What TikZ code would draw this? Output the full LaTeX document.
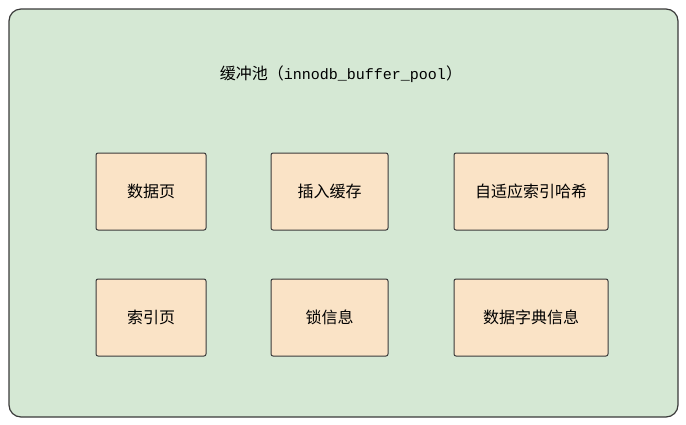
\documentclass[tikz,border=0pt]{standalone}
\usepackage{fontspec}
\newfontfamily\cjk{Noto Sans CJK SC}
\newfontfamily\latinmono{Liberation Mono}
\usepackage{tikz}
\definecolor{poolgreen}{HTML}{D5E8D4}
\definecolor{boxorange}{HTML}{FAE3C6}
\definecolor{edgegray}{HTML}{3A3A3A}
\tikzstyle{pool} = [rectangle, rounded corners=12pt, draw=edgegray, line width=1.2pt, fill=poolgreen]
\tikzstyle{part} = [rectangle, rounded corners=2pt, draw=edgegray, line width=1pt, fill=boxorange, minimum height=77pt, text centered, font=\cjk\fontsize{16}{19}\selectfont]

\begin{document}
\begin{tikzpicture}[x=1pt, y=-1pt]
            \useasboundingbox (0,0) rectangle (686,424);
            \draw [pool] (9,9) rectangle (678,417);
            \node (title) at (341,74) {\cjk\fontsize{16}{19}\selectfont 缓冲池（{\latinmono\fontsize{15}{19}\selectfont innodb\_buffer\_pool}）};
            
            \node (datapage) [part, minimum width=110pt] at (151,191.5) {数据页};
            \node (insertbuf) [part, minimum width=117pt] at (329.5,191.5) {插入缓存};
            \node (adaptive) [part, minimum width=154pt] at (531,191.5) {自适应索引哈希};
            \node (indexpage) [part, minimum width=110pt] at (151,317.5) {索引页};
            \node (lockinfo) [part, minimum width=117pt] at (329.5,317.5) {锁信息};
            \node (dictinfo) [part, minimum width=154pt] at (531,317.5) {数据字典信息};
        \end{tikzpicture}
\end{document}
